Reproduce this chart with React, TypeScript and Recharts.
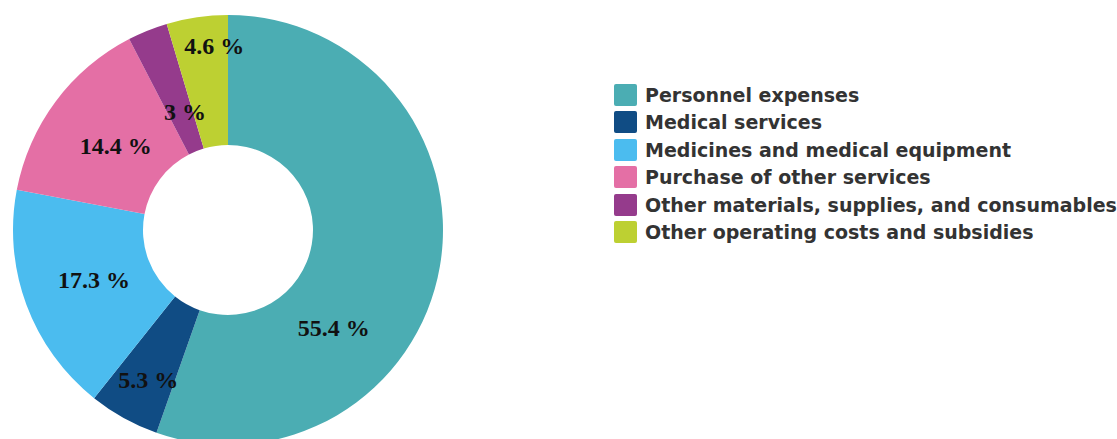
import { PieChart, Pie, Cell, Legend } from "recharts";

const categories = [
  "Personnel expenses",
  "Medical services",
  "Medicines and medical equipment",
  "Purchase of other services",
  "Other materials, supplies, and consumables",
  "Other operating costs and subsidies",
];
const shares = [55.4, 5.3, 17.3, 14.4, 3, 4.6];
const colors = ["#4BADB3", "#104C84", "#4BBCEF", "#E46FA5", "#953B8C", "#BDD032"];

// label placement tweaks (radius from centre, angle shift in degrees)
const labelRadius = [144, 170, 143, 140, 126, 185];
const labelShift = [-33, 1, 0, 0, -2, -4];

const data = categories.map((name, i) => ({ name, value: shares[i] }));

const RADIAN = Math.PI / 180;

const renderLabel = (props: any) => {
  const { cx, cy, midAngle, index, value } = props;
  const a = (midAngle + labelShift[index]) * RADIAN;
  const r = labelRadius[index];
  const x = cx + r * Math.cos(a);
  const y = cy - r * Math.sin(a);
  return (
    <text
      x={x}
      y={y}
      textAnchor="middle"
      dominantBaseline="central"
      fill="#111"
      fontFamily="'Liberation Serif', serif"
      fontWeight="bold"
      fontSize={24}
    >
      {value} %
    </text>
  );
};

const renderLegend = () => (
  <div>
    {categories.map((c, i) => (
      <div
        key={c}
        style={{ display: "flex", alignItems: "center", height: 27.5 }}
      >
        <span
          style={{
            display: "inline-block",
            flexShrink: 0,
            width: 23,
            height: 22,
            background: colors[i],
            borderRadius: 2,
            marginRight: 8,
          }}
        />
        <span
          style={{
            fontFamily: "'DejaVu Sans', sans-serif",
            fontWeight: "bold",
            fontSize: 19,
            color: "#333",
            whiteSpace: "nowrap",
          }}
        >
          {c}
        </span>
      </div>
    ))}
  </div>
);

export default function App() {
  return (
    <div
      style={{
        position: "absolute",
        left: 0,
        top: 0,
        width: 1117,
        height: 439,
        overflow: "hidden",
        background: "#fff",
      }}
    >
      <PieChart
        width={1117}
        height={439}
        margin={{ top: 0, right: 0, bottom: 0, left: 0 }}
      >
        <Pie
          data={data}
          dataKey="value"
          nameKey="name"
          cx={228}
          cy={230}
          innerRadius={85}
          outerRadius={215}
          startAngle={90}
          endAngle={-270}
          stroke="none"
          label={renderLabel}
          labelLine={false}
          isAnimationActive={false}
        >
          {data.map((d, i) => (
            <Cell key={d.name} fill={colors[i]} />
          ))}
        </Pie>
        <Legend
          content={renderLegend}
          wrapperStyle={{ left: 614, top: 81, width: 503 }}
        />
      </PieChart>
    </div>
  );
}
